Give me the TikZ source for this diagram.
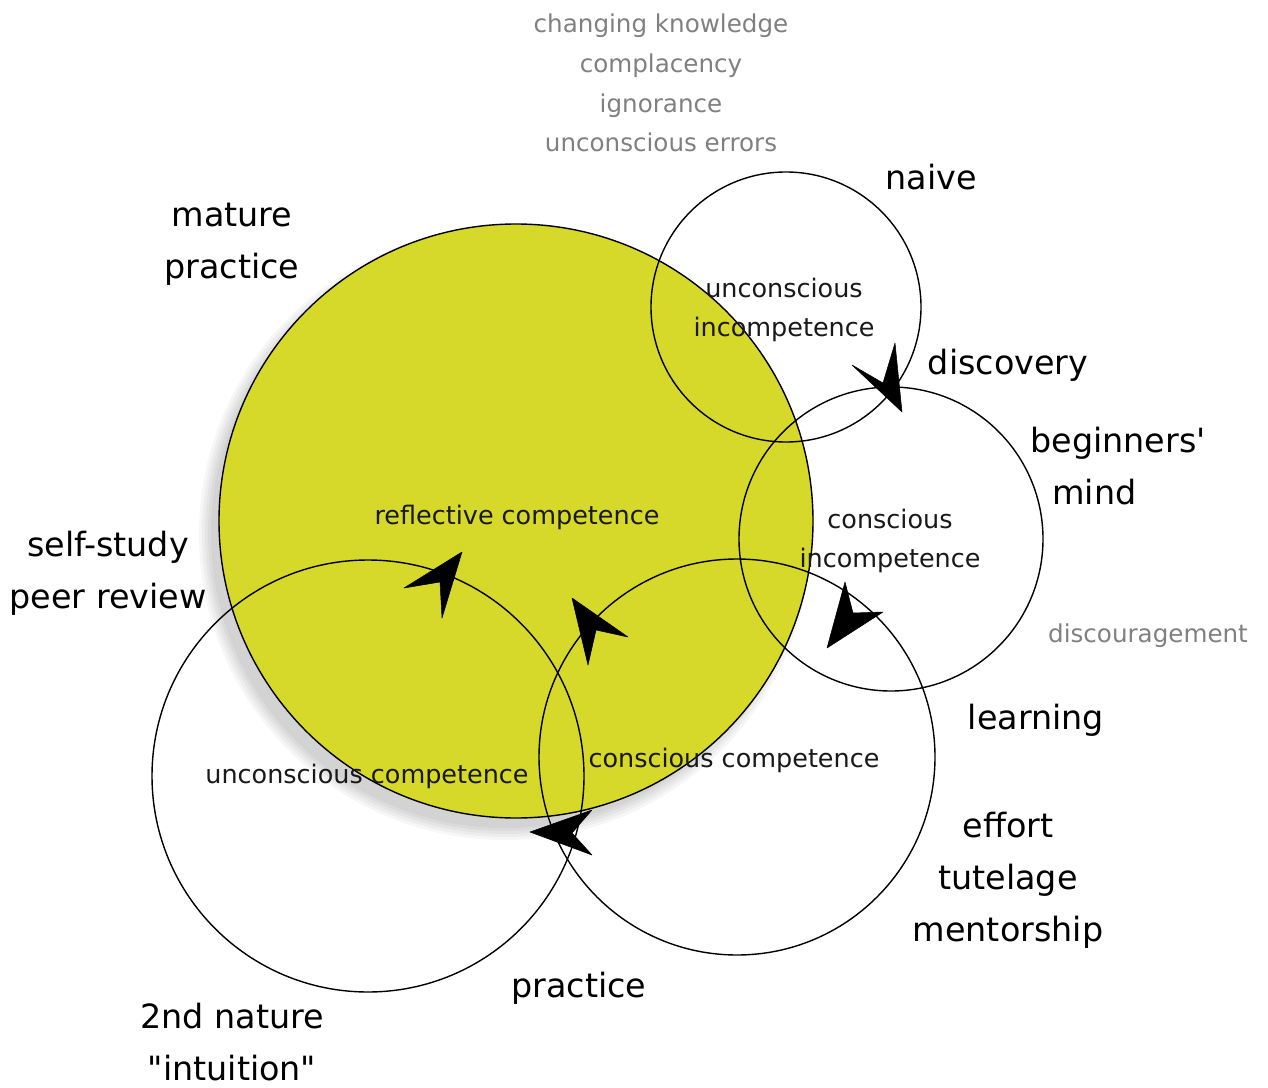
\documentclass[tikz,border=0pt]{standalone}
\usepackage{fontspec}
\setmainfont{DejaVu Sans}
% plain family without TeX quote mapping, so ' and " stay straight
\newfontfamily\dvsans{DejaVu Sans}
\begin{document}
\begin{tikzpicture}[x=0.02cm,y=-0.02cm,
  ring/.style={draw=black,line width=0.8pt},
  tip/.style={fill=black,draw=black,line width=0.3pt,line join=round},
  label/.style={font=\dvsans\fontsize{19}{29.5}\selectfont,align=center,text=black},
  inner/.style={font=\dvsans\fontsize{14.5}{22}\selectfont,align=center,text=black!90},
  note/.style={font=\dvsans\fontsize{14}{22.7}\selectfont,align=center,text=black!50}]
\definecolor{lime}{RGB}{214,216,42}
\useasboundingbox (0,0) rectangle (1268,1088);
\fill[white] (0,0) rectangle (1268,1088);

% soft shadow under the large disc, thrown down and to the left
\foreach \r in {306,303,300,297,294}
  \fill[black,opacity=0.035] (505,534) circle[radius=\r];

% reflective competence disc
\coordinate (cR) at (516,521);
\fill[lime] (cR) circle[radius=297];

% the five cycle circles
\coordinate (cN) at (786,307);
\coordinate (cB) at (891,539);
\coordinate (cL) at (737,757);
\coordinate (cP) at (368,776);
\draw[ring] (cR) circle[radius=297];
\draw[ring] (cN) circle[radius=135];
\draw[ring] (cB) circle[radius=152];
\draw[ring] (cL) circle[radius=198];
\draw[ring] (cP) circle[radius=216];

% arrowheads along the cycle
\fill[tip] (902,412) -- (852,365) -- (883,383) -- (895,343) -- cycle;
\fill[tip] (827,648) -- (845,582) -- (853,613) -- (883,612) -- cycle;
\fill[tip] (530,832) -- (592,810) -- (572,833) -- (592,855) -- cycle;
\fill[tip] (462,552) -- (404,588) -- (440,582) -- (442,618) -- cycle;
\fill[tip] (572,598) -- (628,637) -- (596,630) -- (588,665) -- cycle;

% stage names inside the circles
\node[inner] (ui) at (784,310) {unconscious\\incompetence};
\node[inner] (rc) at (517,517) {reflective competence};
\node[inner] (ci) at (890,541) {conscious\\incompetence};
\node[inner] (uc) at (367,776) {unconscious competence};
\node[inner] (cc) at (734,760) {conscious competence};

% labels around the cycle
\node[label] (naive) at (931,177) {naive};
\node[label] (mature) at (232,244) {mature\\practice};
\node[label] (discovery) at (1008,365) {discovery};
\node[label,align=left] (beginners) at (1118,466) {beginners'\\\hspace{0.44cm}mind};
\node[label] (selfstudy) at (108,573) {self-study\\peer review};
\node[label] (learning) at (1036,720) {learning};
\node[label] (effort) at (1008,880) {effort\\tutelage\\mentorship};
\node[label] (practice) at (579,988) {practice};
\node[label] (nature) at (232,1042) {2nd nature\\"intuition"};

% pitfalls
\node[note] (pitfalls) at (661,83) {changing knowledge\\complacency\\ignorance\\unconscious errors};
\node[note] (discourage) at (1148,636) {discouragement};
\end{tikzpicture}
\end{document}
